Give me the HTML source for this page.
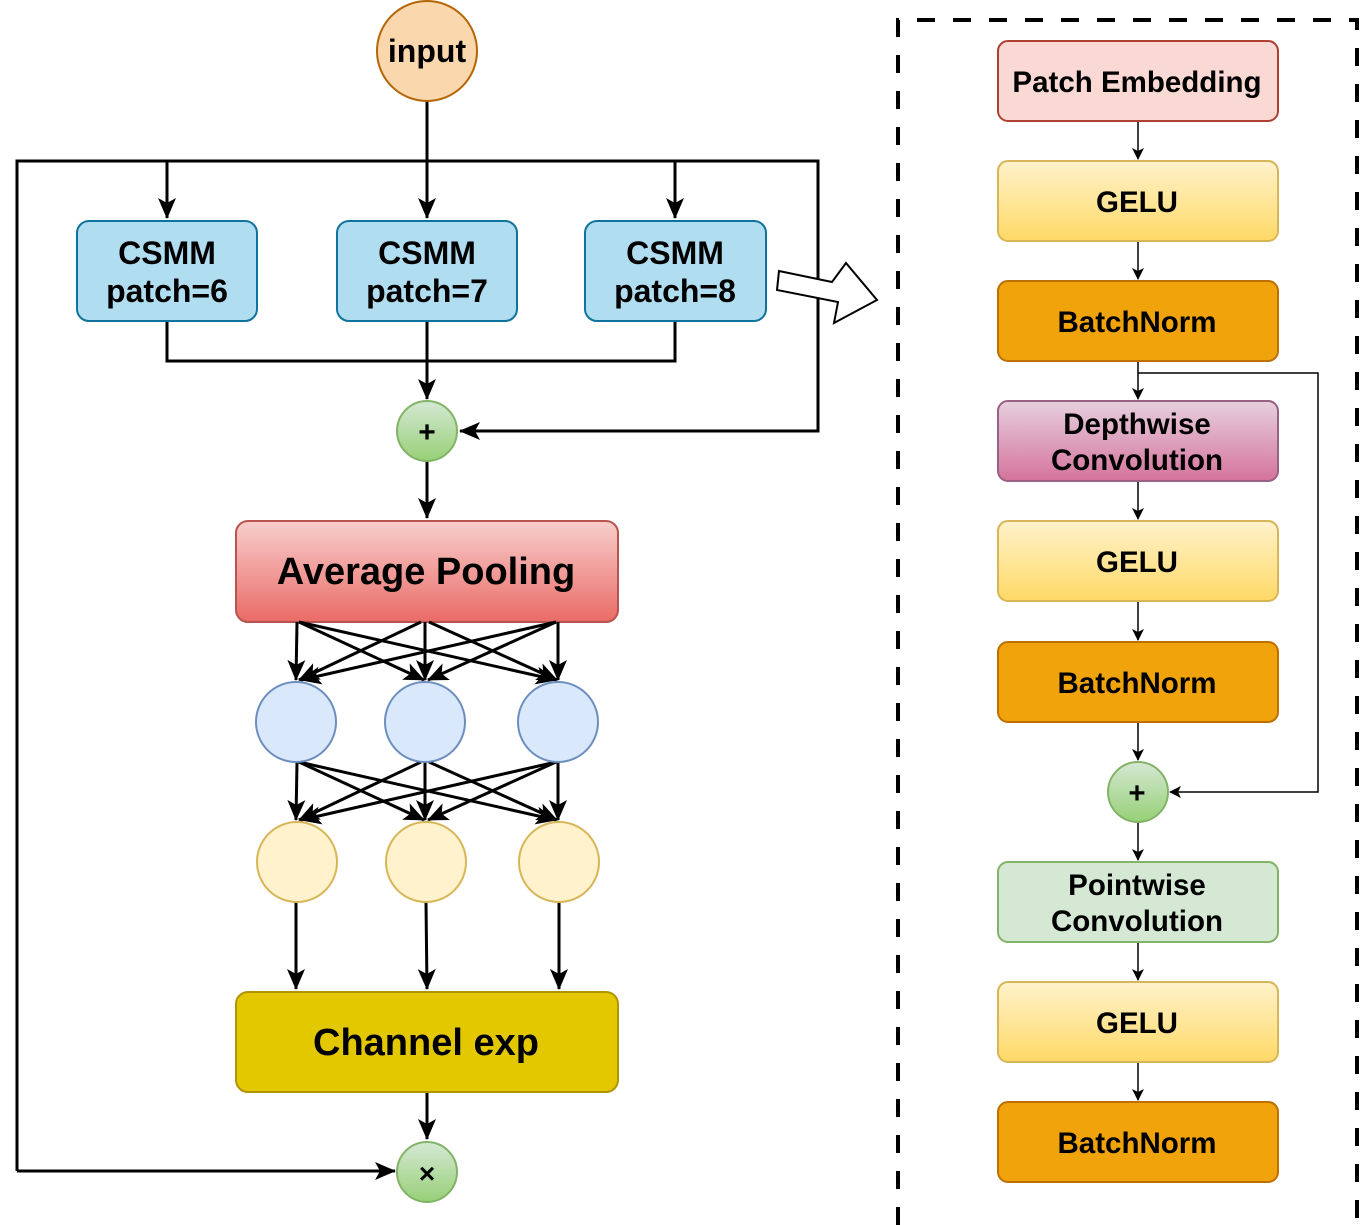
<!DOCTYPE html>
<html><head><meta charset="utf-8"><style>
html,body{margin:0;padding:0;background:#fff;}
svg{display:block;}
text{font-family:"Liberation Sans",sans-serif;font-weight:bold;fill:#000;text-anchor:middle;}
</style></head><body>
<svg width="1361" height="1225" viewBox="0 0 1361 1225" xmlns="http://www.w3.org/2000/svg">
<defs>
<marker id="a" markerWidth="12" markerHeight="12" refX="11" refY="6" orient="auto" markerUnits="userSpaceOnUse" viewBox="0 0 12 12"><path d="M0,0 L12,6 L0,12 L3,6 Z" fill="#000"/></marker>
<marker id="b" markerWidth="22" markerHeight="22" refX="20" refY="11" orient="auto" markerUnits="userSpaceOnUse" viewBox="0 0 22 22"><path d="M0,2 L21,11 L0,20 L5,11 Z" fill="#000"/></marker>
<linearGradient id="gy" x1="0" y1="0" x2="0" y2="1"><stop offset="0" stop-color="#fff2cc"/><stop offset="1" stop-color="#ffd966"/></linearGradient>
<linearGradient id="gp" x1="0" y1="0" x2="0" y2="1"><stop offset="0" stop-color="#e6d0de"/><stop offset="1" stop-color="#d5739d"/></linearGradient>
<linearGradient id="gr" x1="0" y1="0" x2="0" y2="1"><stop offset="0" stop-color="#f8cecc"/><stop offset="1" stop-color="#ea6b66"/></linearGradient>
<linearGradient id="gg" x1="0" y1="0" x2="0" y2="1"><stop offset="0" stop-color="#d5e8d4"/><stop offset="1" stop-color="#97d077"/></linearGradient>
</defs>

<g stroke="#000" stroke-width="3" fill="none">
<line x1="427" y1="101" x2="427" y2="218" marker-end="url(#b)"/>
<polyline points="17,1171 17,161 818,161 818,431 460,431" marker-end="url(#b)"/>
<line x1="167" y1="161" x2="167" y2="218" marker-end="url(#b)"/>
<line x1="675" y1="161" x2="675" y2="218" marker-end="url(#b)"/>
<polyline points="167,321 167,361 675,361 675,321"/>
<line x1="427" y1="321" x2="427" y2="399" marker-end="url(#b)"/>
<line x1="427" y1="461" x2="427" y2="518" marker-end="url(#b)"/>
<line x1="17" y1="1171" x2="395" y2="1171" marker-end="url(#b)"/>
<line x1="427" y1="1092" x2="427" y2="1139" marker-end="url(#b)"/>
<line x1="296" y1="902" x2="296" y2="989" marker-end="url(#b)"/>
<line x1="426" y1="902" x2="427" y2="989" marker-end="url(#b)"/>
<line x1="559" y1="902" x2="559" y2="989" marker-end="url(#b)"/>
</g>
<circle cx="427" cy="51" r="50" fill="#fad7ac" stroke="#b46504" stroke-width="2"/>
<text x="427" y="62" font-size="32">input</text>

<g stroke="#10739e" stroke-width="2" fill="#b1ddf0">
<rect x="77" y="221" width="180" height="100" rx="12"/>
<rect x="337" y="221" width="180" height="100" rx="12"/>
<rect x="585" y="221" width="181" height="100" rx="12"/>
</g>
<g font-size="32">
<text x="167" y="264">CSMM</text><text x="167" y="302">patch=6</text>
<text x="427" y="264">CSMM</text><text x="427" y="302">patch=7</text>
<text x="675" y="264">CSMM</text><text x="675" y="302">patch=8</text>
</g>
<polygon points="779,271 832,282 846,263 877,300 834,323 838,302 777,290" fill="#fff" stroke="#000" stroke-width="2"/>

<circle cx="427" cy="431" r="30" fill="url(#gg)" stroke="#82b366" stroke-width="2"/>
<text x="427" y="442" font-size="30">+</text>

<rect x="236" y="521" width="382" height="101" rx="12" fill="url(#gr)" stroke="#b85450" stroke-width="2"/>
<text x="426" y="584" font-size="38">Average Pooling</text>

<g stroke="#000" stroke-width="3" fill="none">
<line x1="297" y1="622" x2="296" y2="680" marker-end="url(#b)"/>
<line x1="299" y1="622" x2="424" y2="680" marker-end="url(#b)"/>
<line x1="299" y1="622" x2="556" y2="680" marker-end="url(#b)"/>
<line x1="421" y1="622" x2="299" y2="680" marker-end="url(#b)"/>
<line x1="425" y1="622" x2="425" y2="680" marker-end="url(#b)"/>
<line x1="429" y1="622" x2="557" y2="680" marker-end="url(#b)"/>
<line x1="556" y1="622" x2="301" y2="680" marker-end="url(#b)"/>
<line x1="556" y1="622" x2="428" y2="680" marker-end="url(#b)"/>
<line x1="558" y1="622" x2="558" y2="680" marker-end="url(#b)"/>

<line x1="297" y1="762" x2="296" y2="820" marker-end="url(#b)"/>
<line x1="299" y1="762" x2="424" y2="820" marker-end="url(#b)"/>
<line x1="299" y1="762" x2="556" y2="820" marker-end="url(#b)"/>
<line x1="421" y1="762" x2="299" y2="820" marker-end="url(#b)"/>
<line x1="425" y1="762" x2="425" y2="820" marker-end="url(#b)"/>
<line x1="429" y1="762" x2="557" y2="820" marker-end="url(#b)"/>
<line x1="556" y1="762" x2="301" y2="820" marker-end="url(#b)"/>
<line x1="556" y1="762" x2="428" y2="820" marker-end="url(#b)"/>
<line x1="558" y1="762" x2="558" y2="820" marker-end="url(#b)"/>
</g>
<g fill="#dae8fc" stroke="#6c8ebf" stroke-width="2">
<circle cx="296" cy="722" r="40"/><circle cx="425" cy="722" r="40"/><circle cx="558" cy="722" r="40"/>
</g>
<g fill="#fff2cc" stroke="#d6b656" stroke-width="2">
<circle cx="297" cy="862" r="40"/><circle cx="426" cy="862" r="40"/><circle cx="559" cy="862" r="40"/>
</g>

<rect x="236" y="992" width="382" height="100" rx="12" fill="#e3c800" stroke="#b09500" stroke-width="2"/>
<text x="426" y="1055" font-size="38">Channel exp</text>

<circle cx="427" cy="1172" r="30" fill="url(#gg)" stroke="#82b366" stroke-width="2"/>
<text x="427" y="1183" font-size="28">×</text>

<path d="M898,1225 L898,20 L1357,20 L1357,1225" fill="none" stroke="#000" stroke-width="4" stroke-dasharray="18 18"/>

<g stroke="#000" stroke-width="1.5" fill="none">
<line x1="1138" y1="121" x2="1138" y2="159" marker-end="url(#a)"/>
<line x1="1138" y1="241" x2="1138" y2="279" marker-end="url(#a)"/>
<line x1="1138" y1="361" x2="1138" y2="399" marker-end="url(#a)"/>
<polyline points="1138,373 1318,373 1318,792 1170,792" marker-end="url(#a)"/>
<line x1="1138" y1="481" x2="1138" y2="519" marker-end="url(#a)"/>
<line x1="1138" y1="601" x2="1138" y2="640" marker-end="url(#a)"/>
<line x1="1138" y1="722" x2="1138" y2="760" marker-end="url(#a)"/>
<line x1="1138" y1="822" x2="1138" y2="860" marker-end="url(#a)"/>
<line x1="1138" y1="942" x2="1138" y2="980" marker-end="url(#a)"/>
<line x1="1138" y1="1062" x2="1138" y2="1100" marker-end="url(#a)"/>
</g>
<rect x="998" y="41" width="280" height="80" rx="10" fill="#fad9d5" stroke="#ae4132" stroke-width="2"/>
<rect x="998" y="161" width="280" height="80" rx="10" fill="url(#gy)" stroke="#d6b656" stroke-width="2"/>
<rect x="998" y="281" width="280" height="80" rx="10" fill="#f0a30a" stroke="#bd7000" stroke-width="2"/>
<rect x="998" y="401" width="280" height="80" rx="10" fill="url(#gp)" stroke="#996185" stroke-width="2"/>
<rect x="998" y="521" width="280" height="80" rx="10" fill="url(#gy)" stroke="#d6b656" stroke-width="2"/>
<rect x="998" y="642" width="280" height="80" rx="10" fill="#f0a30a" stroke="#bd7000" stroke-width="2"/>
<circle cx="1138" cy="792" r="30" fill="url(#gg)" stroke="#82b366" stroke-width="2"/>
<rect x="998" y="862" width="280" height="80" rx="10" fill="#d5e8d4" stroke="#82b366" stroke-width="2"/>
<rect x="998" y="982" width="280" height="80" rx="10" fill="url(#gy)" stroke="#d6b656" stroke-width="2"/>
<rect x="998" y="1102" width="280" height="80" rx="10" fill="#f0a30a" stroke="#bd7000" stroke-width="2"/>
<g font-size="29.5">
<text x="1137" y="92">Patch Embedding</text>
<text x="1137" y="212">GELU</text>
<text x="1137" y="332">BatchNorm</text>
<text x="1137" y="434">Depthwise</text>
<text x="1137" y="470">Convolution</text>
<text x="1137" y="572">GELU</text>
<text x="1137" y="693">BatchNorm</text>
<text x="1137" y="803">+</text>
<text x="1137" y="895">Pointwise</text>
<text x="1137" y="931">Convolution</text>
<text x="1137" y="1033">GELU</text>
<text x="1137" y="1153">BatchNorm</text>
</g>
</svg>
</body></html>
